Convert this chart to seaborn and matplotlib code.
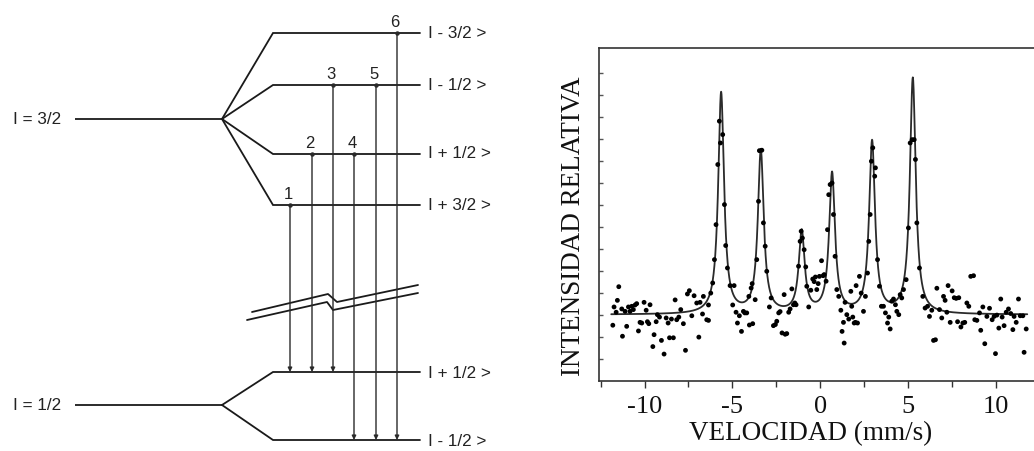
import numpy as np
import pandas as pd
import matplotlib
matplotlib.use("Agg")
import matplotlib.pyplot as plt
import seaborn as sns

# ---------------- Mössbauer spectrum data ----------------
velocity = [
    -11.81, -11.74, -11.62, -11.55, -11.47, -11.30, -11.26, -11.11, -11.02, -10.92,
    -10.83, -10.73, -10.64, -10.54, -10.45, -10.35, -10.26, -10.16, -10.03, -9.91,
    -9.84, -9.76, -9.69, -9.53, -9.46, -9.34, -9.27, -9.15, -9.04, -8.89,
    -8.77, -8.66, -8.58, -8.47, -8.36, -8.26, -8.17, -8.05, -7.94, -7.79,
    -7.67, -7.56, -7.45, -7.31, -7.18, -7.03, -6.91, -6.84, -6.70, -6.65,
    -6.46, -6.36, -6.36, -6.23, -6.12, -6.02, -5.93, -5.83, -5.74, -5.68,
    -5.55, -5.45, -5.38, -5.28, -5.13, -4.98, -4.90, -4.79, -4.71, -4.60,
    -4.48, -4.37, -4.29, -4.18, -4.06, -4.03, -3.93, -3.87, -3.84, -3.70,
    -3.61, -3.51, -3.46, -3.32, -3.23, -3.13, -3.04, -2.89, -2.79, -2.66,
    -2.55, -2.47, -2.36, -2.28, -2.17, -2.05, -1.99, -1.90, -1.79, -1.71,
    -1.61, -1.52, -1.44, -1.37, -1.23, -1.14, -1.08, -1.01, -0.91, -0.82,
    -0.76, -0.65, -0.53, -0.42, -0.34, -0.27, -0.19, -0.11, -0.04, 0.08,
    0.17, 0.23, 0.34, 0.42, 0.49, 0.57, 0.68, 0.76, 0.85, 0.95,
    1.06, 1.18, 1.25, 1.33, 1.37, 1.42, 1.52, 1.63, 1.75, 1.80,
    1.86, 1.94, 2.01, 2.05, 2.13, 2.24, 2.34, 2.47, 2.58, 2.70,
    2.77, 2.85, 2.92, 3.00, 3.11, 3.15, 3.27, 3.38, 3.49, 3.61,
    3.72, 3.84, 3.91, 3.99, 4.08, 4.18, 4.29, 4.37, 4.48, 4.56,
    4.65, 4.75, 4.90, 5.03, 5.13, 5.24, 5.36, 5.43, 5.51, 5.66,
    5.85, 5.98, 6.12, 6.23, 6.36, 6.46, 6.57, 6.65, 6.80, 6.93,
    7.03, 7.12, 7.22, 7.29, 7.41, 7.52, 7.64, 7.75, 7.83, 7.90,
    8.02, 8.13, 8.24, 8.36, 8.47, 8.58, 8.74, 8.81, 8.93, 9.08,
    9.15, 9.27, 9.38, 9.50, 9.65, 9.80, 9.91, 9.99, 10.07, 10.18,
    10.29, 10.37, 10.48, 10.60, 10.73, 10.86, 10.98, 11.05, 11.17, 11.30,
    11.40, 11.55, 11.62, 11.74,
]
intensity = [
    2.52, 3.35, 3.11, 3.65, 4.27, 3.26, 2.02, 3.15, 2.47, 3.35,
    3.15, 3.38, 3.23, 3.44, 3.50, 2.26, 2.65, 2.62, 3.56, 3.20,
    2.68, 2.59, 3.45, 1.55, 2.09, 2.68, 3.00, 2.89, 1.83, 1.21,
    2.85, 2.62, 1.95, 2.80, 1.95, 3.67, 2.77, 2.89, 3.23, 2.59,
    1.38, 3.94, 4.09, 2.95, 3.86, 3.53, 1.98, 3.56, 3.03, 3.83,
    2.77, 2.74, 3.44, 3.98, 4.44, 5.50, 7.09, 9.82, 11.79, 10.80,
    11.18, 8.00, 6.14, 5.12, 4.32, 3.44, 4.32, 3.11, 2.62, 2.95,
    2.24, 3.15, 3.08, 3.08, 3.83, 2.53, 4.21, 4.41, 2.59, 3.68,
    5.50, 8.15, 10.45, 10.47, 7.17, 6.11, 4.97, 3.35, 3.76, 2.50,
    2.55, 2.70, 3.08, 3.14, 2.17, 3.91, 2.11, 2.14, 3.11, 3.26,
    4.17, 3.45, 3.53, 3.45, 5.20, 6.33, 6.79, 6.48, 5.95, 5.17,
    4.29, 3.35, 4.11, 4.62, 4.50, 4.71, 4.14, 4.41, 4.74, 5.45,
    4.77, 4.82, 4.52, 6.86, 8.45, 8.91, 8.98, 7.55, 5.65, 4.14,
    3.83, 3.20, 2.24, 2.65, 1.71, 3.56, 3.00, 2.80, 4.06, 3.38,
    2.89, 2.62, 2.65, 4.32, 2.62, 4.74, 3.98, 3.15, 3.83, 4.89,
    6.33, 7.55, 9.97, 10.58, 9.29, 9.67, 5.50, 4.29, 3.38, 3.38,
    3.08, 2.62, 2.89, 2.35, 3.61, 3.71, 3.45, 3.15, 3.00, 3.91,
    3.76, 4.14, 4.59, 6.94, 10.80, 10.95, 10.95, 10.05, 7.17, 5.12,
    3.83, 3.30, 3.38, 2.92, 3.20, 1.83, 1.86, 4.20, 3.23, 2.85,
    3.83, 3.65, 3.11, 4.32, 2.65, 4.08, 3.77, 3.74, 2.68, 3.77,
    2.44, 2.62, 2.65, 3.53, 3.38, 4.74, 4.77, 2.77, 2.74, 3.08,
    2.29, 3.35, 1.68, 2.92, 3.29, 2.77, 2.92, 1.23, 2.98, 2.39,
    3.71, 2.89, 2.50, 3.11, 3.26, 3.05, 2.32, 2.92, 2.65, 3.71,
    2.95, 2.95, 1.29, 2.35,
]

# fitted sextet (Lorentzian lines) parameters
peak_centers = [-5.64, -3.38, -1.05, 0.68, 2.96, 5.28]
peak_heights = [10.05, 7.40, 3.70, 6.35, 7.80, 10.70]
peak_hwhm = [0.20, 0.20, 0.20, 0.20, 0.20, 0.20]
fit_baseline = 3.0
fit_range = [-11.9, 11.8]

x_ticks = [-10, -5, 0, 5, 10]
x_label = "VELOCIDAD (mm/s)"
y_label = "INTENSIDAD RELATIVA"

# ---------------- Energy level diagram (schematic) ----------------
upper_state = "I = 3/2"
lower_state = "I = 1/2"
upper_sub_labels = ["I - 3/2 >", "I - 1/2 >", "I + 1/2 >", "I + 3/2 >"]
lower_sub_labels = ["I + 1/2 >", "I - 1/2 >"]
transition_numbers = ["1", "2", "3", "4", "5", "6"]
transition_from_upper = [3, 2, 1, 2, 1, 0]   # index in upper_sub_labels
transition_to_lower = [0, 0, 0, 1, 1, 1]     # index in lower_sub_labels

# schematic geometry (pixel-like units of the diagram panel)
parent_y_upper, parent_y_lower = 119, 405
sub_y_upper = [33, 85, 154, 205]
sub_y_lower = [372, 440]
transition_x = [290, 312, 333, 354, 376, 397]

W, H = 1034, 451
DPI = 100
sns.set_theme(style="white")
plt.rcParams["axes.unicode_minus"] = False
fig = plt.figure(figsize=(W / DPI, H / DPI), dpi=DPI)

# ---- left diagram ----
axd = fig.add_axes([0, 0, 520 / W, 1])
axd.set_xlim(0, 520)
axd.set_ylim(H, 0)
axd.axis("off")
lc = "#1a1a1a"
lw_level = 1.3
sans = ["Liberation Sans", "DejaVu Sans"]
tcol = "#222222"

x_parent0, x_split, x_sub0, x_sub1 = 75, 222, 273, 420
for py, subs in [(parent_y_upper, sub_y_upper), (parent_y_lower, sub_y_lower)]:
    axd.plot([x_parent0, x_split], [py, py], color=lc, lw=lw_level, solid_capstyle="butt")
    for sy in subs:
        axd.plot([x_split, x_sub0, x_sub1], [py, sy, sy], color=lc, lw=lw_level,
                 solid_joinstyle="miter")

axd.text(13, parent_y_upper, upper_state, ha="left", va="center", fontsize=12.3,
         family=sans, color=tcol)
axd.text(13, parent_y_lower, lower_state, ha="left", va="center", fontsize=12.3,
         family=sans, color=tcol)
for lab, sy in zip(upper_sub_labels, sub_y_upper):
    axd.text(428, sy, lab, ha="left", va="center", fontsize=12.3, family=sans, color=tcol)
for lab, sy in zip(lower_sub_labels, sub_y_lower):
    axd.text(428, sy + 1, lab, ha="left", va="center", fontsize=12.3, family=sans, color=tcol)

for num, tx, iu, il in zip(transition_numbers, transition_x,
                           transition_from_upper, transition_to_lower):
    y0 = sub_y_upper[iu]
    y1 = sub_y_lower[il]
    axd.annotate("", xy=(tx, y1), xytext=(tx, y0),
                 arrowprops=dict(arrowstyle="-|>", color="#2a2a2a", lw=1.0,
                                 mutation_scale=6, shrinkA=0, shrinkB=0))
    axd.plot([tx], [y0], marker="o", ms=2.2, color="#2a2a2a")
    axd.text(tx - 2, y0 - 3, num, ha="center", va="bottom", fontsize=12,
             family=sans, color=tcol)

# break symbol (two parallel zig-zag lines)
break_upper_x = [252, 328, 337, 418]
break_upper_y = [312, 294, 302, 285]
break_lower_x = [247, 327, 333, 418]
break_lower_y = [320, 302, 310, 293]
for bx, by in [(break_upper_x, break_upper_y), (break_lower_x, break_lower_y)]:
    axd.plot(bx, by, color=lc, lw=1.3)

# ---- right spectrum ----
ax = fig.add_axes([599.3 / W, (H - 380.7) / H, 442 / W, (380.7 - 48.3) / H])
ax.set_facecolor("white")

fit_x = np.linspace(fit_range[0], fit_range[1], 3000)
fit_y = np.full_like(fit_x, fit_baseline)
for c, h, g in zip(peak_centers, peak_heights, peak_hwhm):
    fit_y = fit_y + h / (1 + ((fit_x - c) / g) ** 2)

df_pts = pd.DataFrame({"v": velocity, "i": intensity})
df_fit = pd.DataFrame({"v": fit_x, "i": fit_y})

sns.lineplot(data=df_fit, x="v", y="i", ax=ax, color="#2b2b2b", lw=1.3, sort=False)
sns.scatterplot(data=df_pts, x="v", y="i", ax=ax, color="black", s=12,
                edgecolor="none", zorder=3)

ax.set_xlim(-12.58, 12.6)
ax.set_ylim(0, 15.1)
serif = ["Liberation Serif", "DejaVu Serif"]
ax.set_xticks(x_ticks)
ax.set_xticklabels([str(t) for t in x_ticks], family=serif, fontsize=19)
ax.set_xticks([-12.5, -7.5, -2.5, 2.5, 7.5, 12.5], minor=True)
ax.set_yticks(range(1, 15))
ax.set_yticklabels([])
ax.tick_params(axis="x", which="major", direction="out", length=5, width=1,
               color="#333333", pad=6, labelcolor="#111111", bottom=True)
ax.tick_params(axis="x", which="minor", direction="out", length=4, width=1,
               color="#333333", bottom=True)
ax.tick_params(axis="y", which="major", direction="in", length=3, width=1,
               color="#555555", left=True)
ax.set_xlabel(x_label, family=serif, fontsize=19.5, color="#111111")
ax.set_ylabel(y_label, family=serif, fontsize=19.5, color="#111111")
ax.xaxis.set_label_coords(0.479, -0.122)
ax.yaxis.set_label_coords(-0.029, 0.466)
for sp in ax.spines.values():
    sp.set_color("#333333")
    sp.set_linewidth(1.2)

fig.savefig("out.png", dpi=DPI, facecolor="white")
